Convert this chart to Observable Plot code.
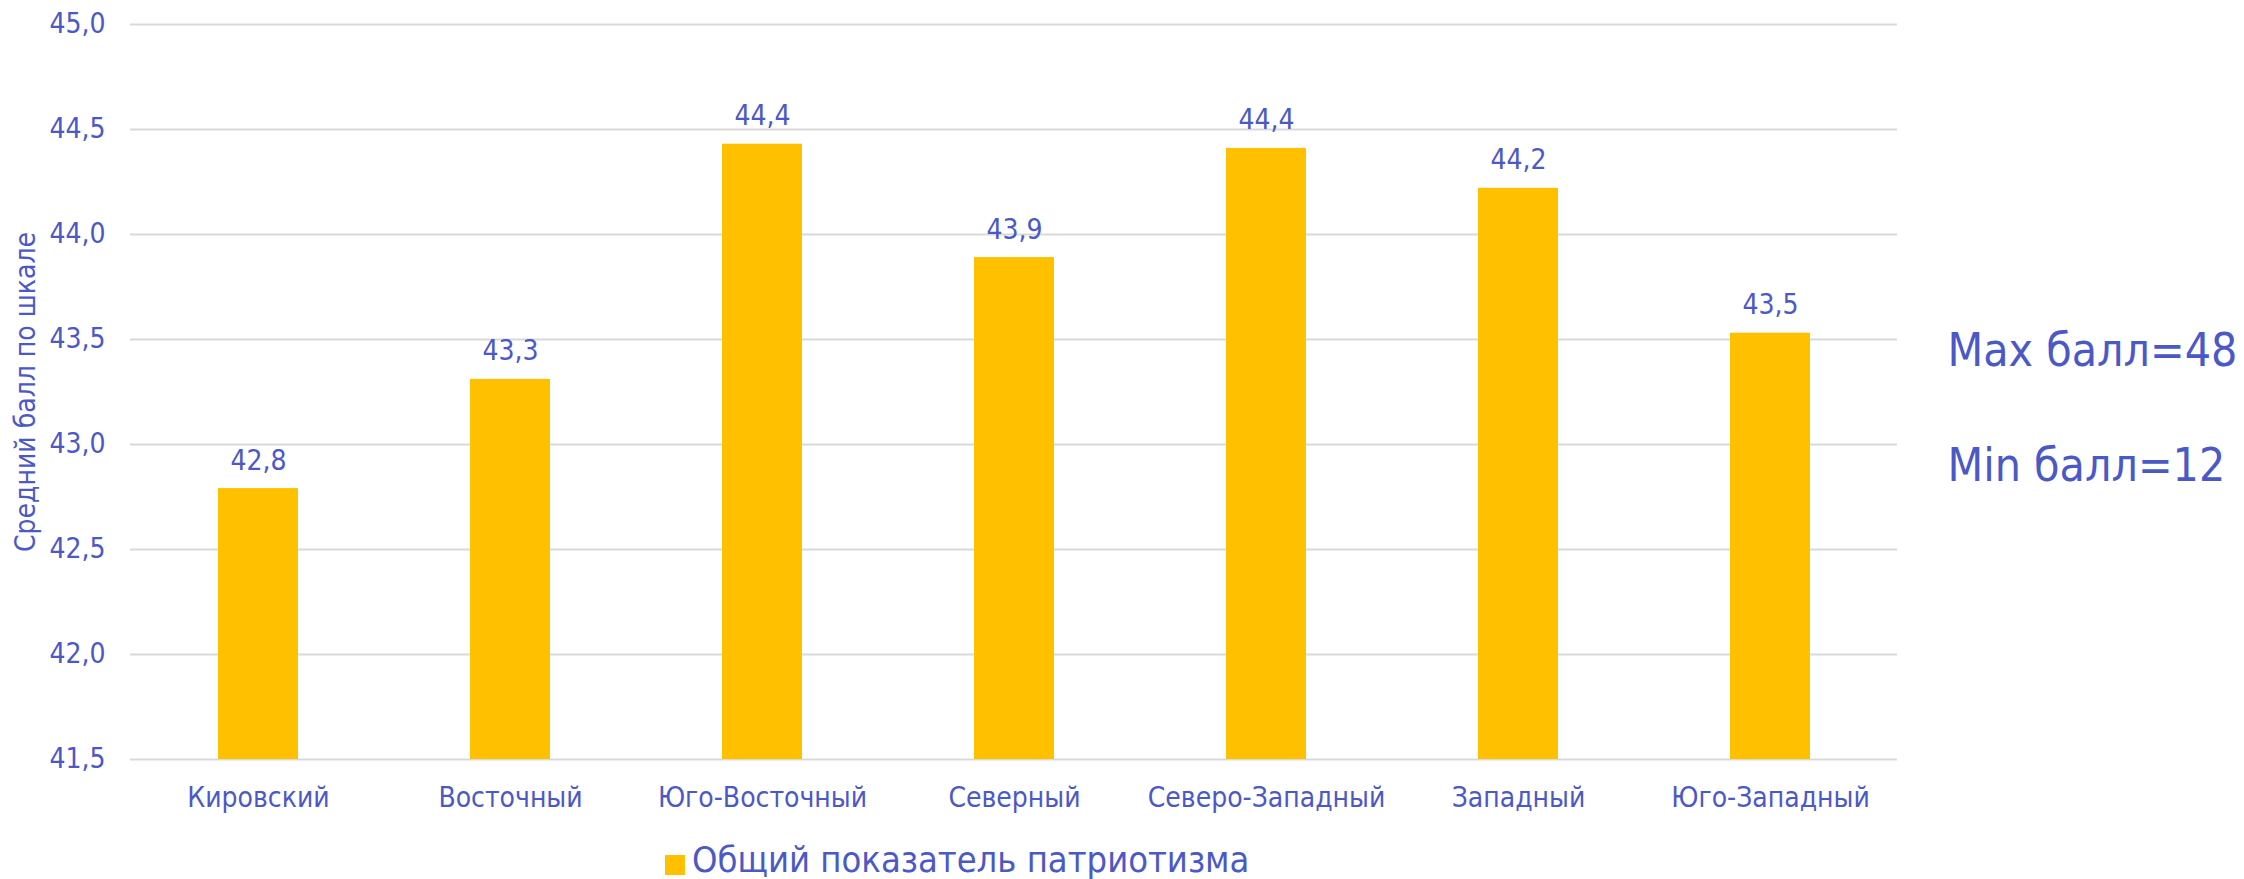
<!DOCTYPE html>
<html>
<head>
<meta charset="utf-8">
<script src="https://cdn.jsdelivr.net/npm/d3@7"></script>
<script src="https://cdn.jsdelivr.net/npm/@observablehq/plot@0.6"></script>
<style>
  html, body { margin: 0; padding: 0; background: #ffffff; }
  #wrap { position: relative; width: 2244px; height: 879px; overflow: hidden; background: #fff; }
  #legend { position: absolute; left: 665px; top: 842px; display: flex; align-items: flex-start;
            font-family: "DejaVu Sans Condensed", "DejaVu Sans", sans-serif; font-stretch: condensed;
            font-size: 36px; line-height: 36px; color: #4b59c6; white-space: nowrap; }
  #legend .sw { width: 20px; height: 20px; background: #FFC000; margin-top: 13px; margin-right: 7px; }
</style>
</head>
<body>
<div id="wrap">
  <div id="chart"></div>
  <div id="legend"><div class="sw"></div><div class="tx"></div></div>
</div>
<script>
const districts = ["Кировский", "Восточный", "Юго-Восточный", "Северный", "Северо-Западный", "Западный", "Юго-Западный"];
const scores = [42.79, 43.31, 44.43, 43.89, 44.41, 44.22, 43.53];
const yDomain = [41.5, 45];
const yTicks = [41.5, 42, 42.5, 43, 43.5, 44, 44.5, 45];
const yTitle = "Средний балл по шкале";
const seriesName = "Общий показатель патриотизма";
const notes = ["Max балл=48", "Min балл=12"];

const textColor = "#4b59c6";
const barColor = "#FFC000";
const font = "'DejaVu Sans Condensed', 'DejaVu Sans', sans-serif";

const data = districts.map((d, i) => ({district: d, score: scores[i]}));
const fmt = v => v.toFixed(1).replace(".", ",");

const chart = Plot.plot({
  width: 2244,
  height: 830,
  marginLeft: 130,
  marginRight: 347,
  marginTop: 24,
  marginBottom: 71,
  style: {fontFamily: font, fontSize: "28px", color: textColor, background: "#fff", fontStretch: "condensed"},
  x: {domain: districts, paddingInner: 0.683, paddingOuter: 0.3415, label: null},
  y: {domain: yDomain, label: null},
  marks: [
    Plot.gridY(yTicks, {stroke: "#d9d9d9", strokeOpacity: 1, strokeWidth: 2}),
    Plot.barY(data, {x: "district", y1: () => yDomain[0], y2: "score", fill: barColor}),
    Plot.text(data, {x: "district", y: "score", text: d => fmt(d.score), dy: -19, lineAnchor: "bottom", fill: textColor, fontSize: 28}),
    Plot.axisX({tickSize: 0, tickPadding: 28, fontSize: 28, fill: textColor, label: null}),
    Plot.axisY({ticks: yTicks, tickSize: 0, tickPadding: 25, tickFormat: fmt, fontSize: 28, fill: textColor, label: null}),
    Plot.text([yTitle], {frameAnchor: "left", text: d => d, rotate: -90, dx: -104, textAnchor: "middle", lineAnchor: "middle", fontSize: 28, fill: textColor}),
    Plot.text([notes[0]], {frameAnchor: "top-right", text: d => d, dx: 50, dy: 327, textAnchor: "start", lineAnchor: "middle", fontSize: 46, fill: textColor}),
    Plot.text([notes[1]], {frameAnchor: "top-right", text: d => d, dx: 50, dy: 442, textAnchor: "start", lineAnchor: "middle", fontSize: 46, fill: textColor})
  ]
});
document.getElementById("chart").appendChild(chart);
document.querySelector("#legend .tx").textContent = seriesName;
</script>
</body>
</html>
